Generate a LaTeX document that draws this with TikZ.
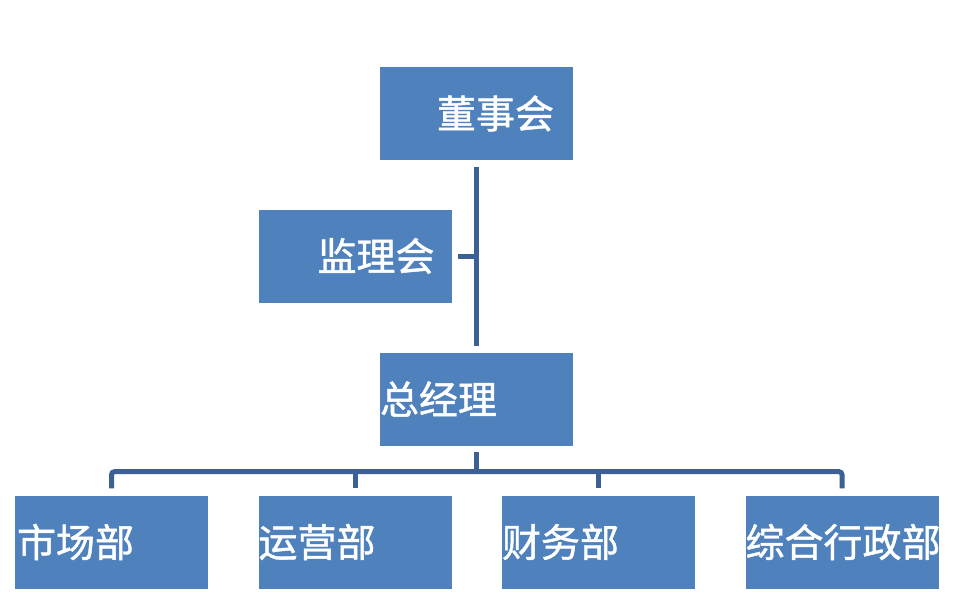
\documentclass[tikz,border=0pt]{standalone}
\usepackage{fontspec}
\usepackage{tikz}
\newfontfamily\cjk[FakeBold=1.2]{Noto Sans CJK SC}
\definecolor{boxblue}{RGB}{79,129,189}
\definecolor{lineblue}{RGB}{60,96,148}

\begin{document}
\begin{tikzpicture}[x=1pt,y=-1pt]

\tikzset{
box/.style={rectangle,minimum width=193pt,minimum height=93pt,text width=193pt,inner sep=0pt,align=left,fill=boxblue,text=white,font=\cjk\fontsize{39pt}{41pt}\selectfont},
link/.style={draw=lineblue,line width=5pt}
}

\useasboundingbox (0,0) rectangle (960,608);

\node[box] (board) at (476.5,113.5) {\hspace*{57pt}董事会};
\node[box] (supervisor) at (355,256) {\hspace*{59pt}监理会};
\node[box] (general-manager) at (476.5,399) {总经理};

\node[box] (market) at (111.5,542) {\hspace*{2pt}市场部};
\node[box] (operation) at (355,542) {运营部};
\node[box] (finance) at (598.5,542) {财务部};
\node[box] (admin) at (842,542) {综合行政部};

\draw[link,shorten <=7pt,shorten >=6pt] (board)--(general-manager);
\draw[link,shorten <=6pt] (supervisor.east)--(supervisor.east -| board.south);

\coordinate (bus) at ([yshift=-26pt]general-manager.south);
\draw[link,shorten <=6pt] (general-manager.south)--(bus);
\draw[link,rounded corners=3pt,shorten >=7pt] (bus) -| (market.north);
\draw[link,shorten >=7pt] (bus) -| (operation.north);
\draw[link,shorten >=7pt] (bus) -| (finance.north);
\draw[link,rounded corners=3pt,shorten >=7pt] (bus) -| (admin.north);

\end{tikzpicture}
\end{document}
